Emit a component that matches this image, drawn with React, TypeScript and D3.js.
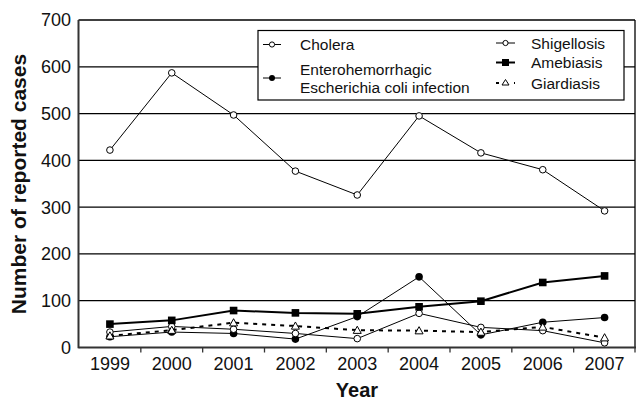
import React from "react";
import * as d3 from "d3";

const years = ["1999", "2000", "2001", "2002", "2003", "2004", "2005", "2006", "2007"];
const cholera = [422, 587, 497, 377, 326, 495, 416, 380, 292];
const ehec = [23, 33, 30, 18, 66, 151, 27, 54, 64];
const shigellosis = [33, 45, 39, 30, 19, 73, 43, 36, 10];
const amebiasis = [50, 58, 79, 74, 72, 87, 99, 139, 153];
const giardiasis = [25, 37, 53, 46, 37, 36, 33, 44, 21];
const yTicks = [0, 100, 200, 300, 400, 500, 600, 700];

const W = 637, H = 401;
const L = 78.5, R = 635, T = 20, B = 347.5;
const FONT = "'Liberation Sans', Arimo, Arial, sans-serif";

type Marker = "openCircle" | "filledCircle" | "square" | "triangle";

function MarkerShape({ type, x, y }: { type: Marker; x: number; y: number }) {
  if (type === "openCircle") return <circle cx={x} cy={y} r={3.3} fill="white" stroke="black" strokeWidth={1} />;
  if (type === "filledCircle") return <circle cx={x} cy={y} r={3.8} fill="black" />;
  if (type === "square") return <rect x={x - 3.8} y={y - 3.8} width={7.6} height={7.6} fill="black" />;
  const s = 4;
  return <path d={`M${x},${y - s}L${x + s},${y + s * 0.8}L${x - s},${y + s * 0.8}Z`} fill="white" stroke="black" strokeWidth={1} />;
}

export default function App() {
  const x = d3.scaleBand<string>().domain(years).range([L + 0.5, R + 0.5]).padding(0);
  const cx = (yr: string) => (x(yr) as number) + x.bandwidth() / 2;
  const y = d3.scaleLinear().domain([0, 700]).range([B, T]);

  const series: { name: string; data: number[]; marker: Marker; width: number; dash?: string }[] = [
    { name: "Cholera", data: cholera, marker: "openCircle", width: 1 },
    { name: "EHEC", data: ehec, marker: "filledCircle", width: 1 },
    { name: "Shigellosis", data: shigellosis, marker: "openCircle", width: 1 },
    { name: "Giardiasis", data: giardiasis, marker: "triangle", width: 2, dash: "4,5" },
    { name: "Amebiasis", data: amebiasis, marker: "square", width: 2 },
  ];

  const line = d3
    .line<number>()
    .x((_, i) => cx(years[i]))
    .y((d) => y(d));

  const tickXs = years.slice(1).map((yr) => x(yr) as number);

  return (
    <svg width={W} height={H} style={{ position: "absolute", left: 0, top: 0, background: "white" }} fontFamily={FONT}>
      <rect x={0} y={0} width={W} height={H} fill="white" />
      {/* gridlines */}
      {yTicks.slice(1).map((t) => (
        <line key={t} x1={L} x2={R} y1={y(t)} y2={y(t)} stroke="black" strokeWidth={1.3} />
      ))}
      {/* frame */}
      <line x1={R} x2={R} y1={T} y2={B} stroke="black" strokeWidth={1.3} />
      <line x1={L} x2={L} y1={T} y2={B + 0.8} stroke="#333" strokeWidth={2} />
      <line x1={L} x2={R + 1} y1={B} y2={B} stroke="#333" strokeWidth={2} />
      {/* x ticks */}
      {tickXs.map((tx, i) => (
        <line key={i} x1={tx} x2={tx} y1={B} y2={B + 5} stroke="#333" strokeWidth={1.3} />
      ))}
      <line x1={R} x2={R} y1={B} y2={B + 5} stroke="#333" strokeWidth={1.3} />
      {/* y tick labels */}
      {yTicks.map((t) => (
        <text key={t} x={71} y={y(t)} dy="0.36em" textAnchor="end" fontSize={18} fill="#111">
          {t}
        </text>
      ))}
      {/* x tick labels */}
      {years.map((yr) => (
        <text key={yr} x={cx(yr)} y={370} textAnchor="middle" fontSize={18} fill="#111">
          {yr}
        </text>
      ))}
      {/* axis titles */}
      <text x={357} y={397} textAnchor="middle" fontSize={20} fontWeight="bold" fill="#111">
        Year
      </text>
      <text
        transform={`translate(26,184) rotate(-90)`}
        textAnchor="middle"
        fontSize={21}
        fontWeight="bold"
        fill="#111"
      >
        Number of reported cases
      </text>
      {/* series */}
      {series.map((s) => (
        <g key={s.name}>
          <path d={line(s.data) as string} fill="none" stroke="black" strokeWidth={s.width} strokeDasharray={s.dash} />
          {s.data.map((v, i) => (
            <MarkerShape key={i} type={s.marker} x={cx(years[i])} y={y(v)} />
          ))}
        </g>
      ))}
      {/* legend */}
      <rect x={258} y={30.5} width={366} height={69.5} fill="white" stroke="black" strokeWidth={1.2} />
      <g fontSize={15.5} fill="#111">
        <line x1={263} x2={281} y1={44.5} y2={44.5} stroke="black" strokeWidth={1} />
        <circle cx={272} cy={44.5} r={2.6} fill="white" stroke="black" strokeWidth={1} />
        <text x={300} y={44.5} dy="0.36em">Cholera</text>

        <line x1={263} x2={281} y1={78} y2={78} stroke="black" strokeWidth={1} />
        <circle cx={272} cy={78} r={3} fill="black" />
        <text x={300} y={69.5} dy="0.36em">Enterohemorrhagic</text>
        <text x={300} y={87.5} dy="0.36em">Escherichia coli infection</text>

        <line x1={496} x2={515} y1={43} y2={43} stroke="black" strokeWidth={1} />
        <circle cx={505.5} cy={43} r={2.6} fill="white" stroke="black" strokeWidth={1} />
        <text x={531} y={43} dy="0.36em">Shigellosis</text>

        <line x1={496} x2={515} y1={62.5} y2={62.5} stroke="black" strokeWidth={2} />
        <rect x={502} y={59} width={7} height={7} fill="black" />
        <text x={531} y={62.5} dy="0.36em">Amebiasis</text>

        <line x1={496} x2={515} y1={83} y2={83} stroke="black" strokeWidth={2} strokeDasharray="3,6" />
        <path d="M505.5,79.5L509,85L502,85Z" fill="white" stroke="black" strokeWidth={1} />
        <text x={531} y={83} dy="0.36em">Giardiasis</text>
      </g>
    </svg>
  );
}
